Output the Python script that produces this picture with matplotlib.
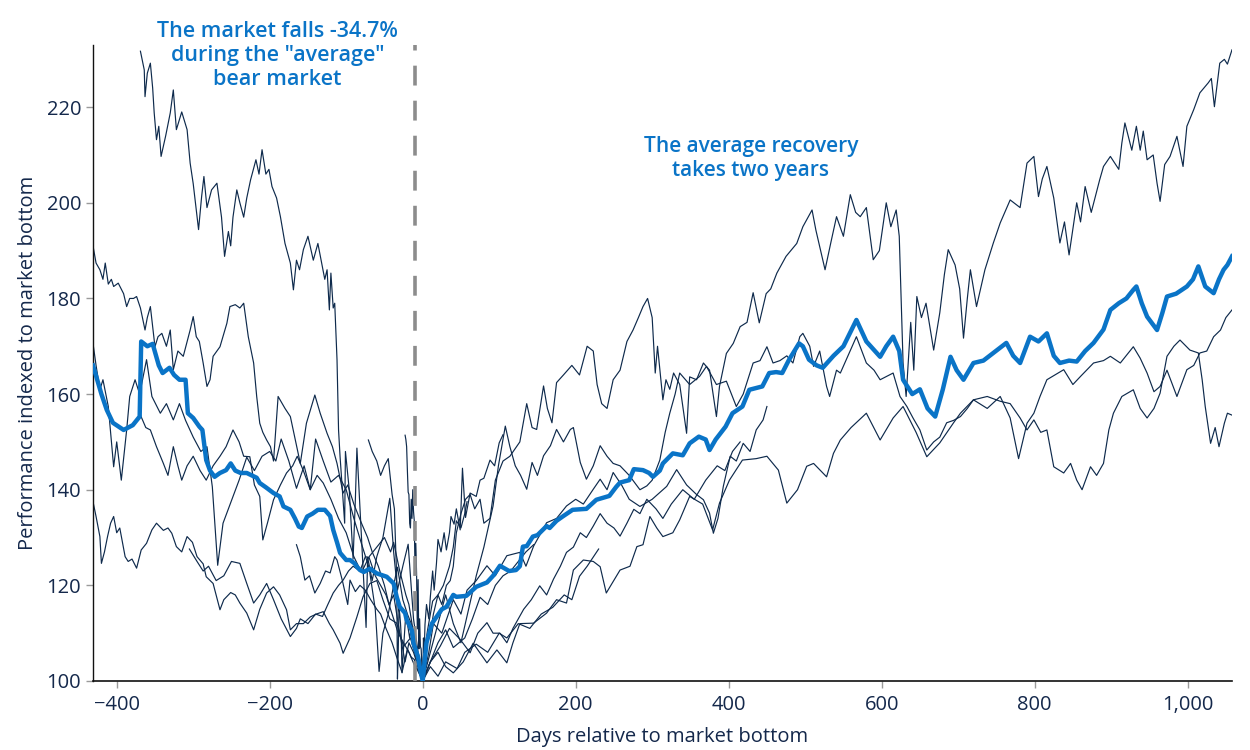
import matplotlib
matplotlib.use("Agg")
import matplotlib.pyplot as plt
from matplotlib.ticker import FuncFormatter

# each line: (days relative to market bottom, index value)
gfc = [(-369, 231.7), (-364, 227.8), (-363, 222.2), (-360, 227.1), (-356, 229.2), (-353, 224), (-351, 218.8),
       (-348, 213.2), (-345, 216), (-342, 209.7), (-336, 214), (-330, 218.8), (-326, 223.6), (-322, 215.3),
       (-315, 219), (-308, 215.3), (-304, 208.3), (-300, 204), (-295, 197.1), (-293, 194.4), (-289, 201.3),
       (-286, 205.5), (-282, 199), (-276, 202.7), (-269, 204.1), (-263, 197), (-259, 188.8), (-254, 194),
       (-251, 191), (-248, 197), (-243, 202.7), (-239, 200), (-234, 197), (-230, 201), (-225, 204.8),
       (-218, 209), (-214, 206), (-210, 211.1), (-205, 206), (-201, 207), (-197, 203.4), (-191, 201),
       (-186, 197.1), (-180, 191.5), (-173, 187.4), (-169, 181.8), (-165, 188), (-161, 186), (-156, 190.2),
       (-150, 193), (-143, 188), (-137, 191.5), (-132, 187.4), (-128, 184), (-125, 186), (-122, 177.6),
       (-120, 185.3), (-117, 178), (-115, 179), (-112, 167.2), (-110, 152.5), (-108, 146.9), (-102, 133),
       (-101, 148), (-96, 140), (-91, 125.5), (-88, 138), (-86, 148.7), (-80, 130), (-74, 111.2),
       (-72, 125.9), (-66, 121), (-60, 126), (-52, 130), (-43, 138.2), (-38, 127), (-33, 119), (-26, 124),
       (-19, 128.6), (-12, 113), (-6, 106), (-3, 104), (0, 100),
       (5, 108), (10, 110), (14, 114), (20, 118), (25, 116), (31, 120), (36, 121), (40, 124), (44, 131),
       (50, 135), (56, 138), (62, 139), (68, 136), (75, 138), (80, 133), (88, 134), (95, 142), (105, 146),
       (114, 147), (127, 150), (136, 158), (143, 153), (149, 152.6), (158, 161.7), (163, 157), (169, 154),
       (175, 162.4), (184, 164), (195, 166), (205, 164), (215, 170), (223, 169), (228, 162), (234, 158),
       (241, 157), (249, 163), (258, 165), (267, 171), (275, 173.4), (282, 176), (288, 178.3), (294, 180),
       (300, 176), (304, 164.4), (307, 170), (314, 158.8), (318, 163), (323, 161), (328, 164.4), (336, 162),
       (345, 151.8), (349, 163.6), (358, 163), (367, 166.5), (375, 165), (384, 155.3), (388, 161.6),
       (397, 168.5), (406, 170.6), (415, 174.1), (424, 175), (432, 181.2), (440, 174.9), (449, 181),
       (455, 182), (463, 185.3), (475, 188.8), (489, 191.5), (497, 195), (509, 198.5), (514, 194.3),
       (526, 186), (534, 192), (541, 197.1), (550, 193), (559, 201.7), (566, 198), (572, 197.1), (580, 199),
       (589, 188.1), (597, 190), (606, 200), (612, 195), (619, 198.5), (623, 193), (628, 166.5), (632, 159.5),
       (638, 175), (642, 165), (646, 180.4), (652, 176), (658, 179), (668, 169.2), (676, 177), (682, 185),
       (687, 190.2), (696, 187), (702, 182), (707, 171.7), (712, 180), (716, 186), (724, 178.3), (735, 186),
       (746, 191.6), (755, 195.8), (768, 200.6), (781, 199), (790, 208.3), (799, 209.7), (805, 201.3),
       (810, 205), (816, 207.6), (825, 201), (833, 191.6), (839, 196), (845, 189.1), (855, 200), (860, 196),
       (866, 203.4), (874, 198), (885, 204.8), (890, 207.6), (899, 209.7), (910, 207), (914, 212.5),
       (918, 216.7), (927, 211), (933, 216), (938, 211), (942, 215), (947, 209), (955, 210), (960, 204.1),
       (964, 200.3), (970, 208), (977, 209.7), (986, 213.9), (994, 207.6), (999, 216), (1008, 219.5),
       (1016, 223), (1027, 225.1), (1031, 226), (1035, 220.1), (1042, 229.2), (1048, 230), (1052, 229),
       (1058, 232)]

bear_1973 = [(-431, 191), (-427, 187.4), (-422, 186), (-418, 184), (-415, 187.4), (-411, 183), (-407, 184),
             (-404, 182.5), (-398, 183.2), (-391, 181), (-387, 178.3), (-383, 180), (-378, 180), (-374, 180.4),
             (-369, 178), (-363, 173.4), (-360, 176), (-356, 178.3), (-350, 169.9), (-346, 172), (-341, 172.7),
             (-335, 170), (-330, 173.4), (-326, 165.1), (-320, 169), (-313, 167.9), (-304, 173.4), (-300, 176.2),
             (-296, 172), (-292, 171), (-287, 166.5), (-282, 161.6), (-278, 163), (-274, 167.9), (-265, 169.9),
             (-256, 174.8), (-252, 178.3), (-245, 178.7), (-239, 178), (-234, 179), (-228, 172), (-221, 166.5),
             (-217, 159.5), (-213, 153.9), (-209, 152), (-204, 150.4), (-199, 149), (-195, 146), (-189, 159.5),
             (-180, 157), (-173, 155.3), (-166, 150), (-160, 145.5), (-152, 153.9), (-141, 159.8), (-134, 156),
             (-125, 151.8), (-118, 149), (-112, 145.5), (-104, 139.3), (-98, 141), (-90, 137), (-80, 133),
             (-72, 130), (-66, 127), (-58, 124), (-50, 120), (-44, 116), (-38, 118), (-30, 110), (-23, 104),
             (-18, 108), (-12, 106), (-6, 103), (0, 100),
             (10, 106), (20, 112), (30, 118), (40, 112), (50, 108), (60, 115), (70, 122), (80, 128),
             (92, 136.6), (99, 145), (108, 153.3), (114, 149), (121, 145), (128, 143), (136, 140.1),
             (143, 145.7), (150, 143), (158, 147.1), (167, 149.2), (175, 152.6), (184, 150), (193, 152.6),
             (197, 153), (206, 145.7), (214, 142.2), (223, 145), (232, 149.2), (241, 147), (249, 145.5),
             (258, 145), (270, 143), (284, 140), (293, 140.8), (300, 142), (310, 146.2), (317, 152), (323, 156),
             (330, 160), (336, 164.4), (349, 162), (362, 163.7), (371, 165.8), (384, 162), (397, 162.7),
             (410, 157.4), (419, 160), (432, 166.5), (441, 167), (450, 169.9), (458, 166.5), (467, 167),
             (476, 168), (484, 166.5), (493, 172), (497, 172.7), (506, 170), (511, 165.8), (519, 169),
             (528, 161.6), (532, 159.5), (541, 165), (546, 164.4), (556, 168), (567, 172), (580, 166.5),
             (590, 165), (598, 163), (615, 164.4), (624, 159.5), (633, 157.4), (641, 155), (650, 152.5),
             (659, 148.3), (668, 150), (676, 151), (685, 154), (694, 154.5), (703, 155.3), (712, 157),
             (720, 158.8), (738, 159.5), (755, 158.5), (768, 158), (781, 155), (790, 152.5), (799, 154.6),
             (808, 152), (816, 152.5), (825, 144.8), (838, 143.5), (847, 145.5), (855, 142), (862, 140),
             (873, 144.8), (881, 143), (890, 145.5), (897, 152.5), (903, 156), (914, 159.5), (929, 160.9),
             (938, 157), (947, 155), (956, 157), (964, 160.2), (973, 167.9), (982, 170), (990, 171.3),
             (1003, 169.2), (1014, 168.6), (1019, 163), (1023, 157.4), (1030, 149.7), (1036, 153), (1041, 149),
             (1048, 153.9), (1052, 156), (1058, 155.6)]

dotcom = [(-431, 170.6), (-427, 166), (-422, 160.9), (-418, 163), (-411, 157.4), (-404, 144.8), (-400, 150),
          (-394, 142), (-387, 152.5), (-383, 159.5), (-376, 163), (-370, 160), (-361, 167.2), (-354, 159.5),
          (-343, 156), (-335, 158), (-326, 154.6), (-318, 158), (-310, 154.5), (-300, 151), (-290, 148),
          (-282, 149), (-275, 140.6), (-268, 124.2), (-261, 133), (-250, 137.7), (-240, 142), (-230, 146.8),
          (-220, 144), (-210, 147), (-200, 148), (-192, 146), (-185, 150.6), (-175, 146), (-165, 140.3),
          (-155, 145), (-147, 140), (-140, 150.6), (-130, 146), (-120, 141.6), (-110, 143), (-100, 140),
          (-90, 134), (-80, 128.7), (-70, 123.6), (-62, 115), (-57, 102), (-52, 110), (-45, 114), (-38, 120),
          (-33, 123.8), (-26, 117), (-20, 114), (-15, 112), (-9, 106), (-4, 104), (0, 100),
          (10, 104), (20, 106), (30, 103), (40, 101.7), (53, 104), (66, 107.9), (84, 103.8), (97, 106.5),
          (110, 103.8), (118, 108), (127, 112), (145, 112.1), (162, 114.2), (175, 117), (188, 116.3),
          (197, 123.2), (210, 125.3), (223, 125), (232, 123.9), (240, 118.4), (258, 123.2), (271, 124),
          (280, 128.1), (288, 128.5), (297, 134.4), (306, 132), (314, 130.2), (327, 131), (336, 133.7),
          (349, 138.6), (366, 137), (379, 131.6), (388, 137.2), (401, 142), (418, 146.2), (436, 146.5),
          (450, 147), (465, 144.1), (476, 137.2), (490, 140), (502, 144.9), (511, 145.5), (528, 142.7),
          (537, 147.6), (546, 150.4), (560, 153), (580, 156), (598, 150.4), (615, 155), (628, 157.4),
          (645, 152), (659, 146.9), (676, 149.8), (694, 154), (703, 156), (720, 158.8), (738, 157),
          (755, 159.5), (768, 155), (779, 146.5), (790, 153.9), (799, 156), (807, 159.5), (816, 163),
          (838, 165.1), (850, 162), (860, 163.7), (877, 166.5), (890, 167), (899, 167.9), (912, 166.5),
          (929, 169.9), (938, 167.5), (947, 164.4), (956, 160.5), (964, 161.6), (973, 165), (986, 159.5),
          (999, 165.1), (1008, 166), (1016, 168.6), (1025, 169), (1034, 172), (1043, 173.4), (1050, 176),
          (1058, 177.6)]

bear_1980 = [(-431, 137.5), (-427, 134.4), (-422, 130.2), (-420, 124.6), (-416, 127), (-412, 130.2), (-408, 133),
             (-404, 134.4), (-400, 131), (-396, 132), (-389, 126), (-385, 125), (-380, 125.5), (-374, 123.6),
             (-368, 127.4), (-361, 128.8), (-354, 131.6), (-348, 133), (-339, 131.5), (-333, 132), (-328, 130.9),
             (-322, 128.1), (-315, 127), (-308, 130.2), (-301, 129), (-295, 126), (-287, 124.5), (-283, 121.8),
             (-274, 120.4), (-265, 114.9), (-260, 117), (-251, 118.5), (-245, 118), (-239, 116.3), (-230, 114.2),
             (-221, 110.7), (-213, 115), (-204, 118.4), (-195, 119.7), (-187, 118), (-178, 114.9), (-173, 110.7),
             (-165, 112), (-156, 112), (-147, 113.4), (-139, 114), (-130, 114.5), (-122, 112), (-117, 110.7),
             (-108, 107.9), (-104, 105.8), (-95, 109), (-86, 113.4), (-78, 117.6), (-69, 120.4), (-60, 121),
             (-52, 117), (-43, 113), (-34, 112.1), (-25, 107.2), (-16, 109), (-8, 104.4), (0, 100),
             (3, 106.6), (6, 110.3), (13, 116.7), (20, 118), (27, 120), (35, 124), (40, 128), (44, 133.5),
             (50, 132), (55, 135), (58, 137.5)]

bear_1968 = [(-370, 156), (-362, 153), (-356, 152.5), (-348, 149), (-339, 145.5), (-333, 143), (-326, 149),
             (-320, 145), (-315, 142), (-308, 145), (-300, 147), (-291, 144), (-283, 142), (-274, 145),
             (-265, 147), (-257, 149), (-248, 152.5), (-240, 150), (-234, 147), (-226, 146.9), (-220, 141),
             (-213, 138.6), (-209, 129.5), (-203, 133), (-195, 137.9), (-186, 141), (-178, 143.5), (-170, 145),
             (-164, 147), (-156, 144), (-147, 140), (-138, 143), (-130, 141.4), (-120, 138), (-110, 134),
             (-100, 131), (-90, 126), (-80, 122.7), (-70, 126), (-60, 128), (-50, 130), (-42, 127), (-38, 129),
             (-30, 123), (-22, 118), (-18, 116), (-12, 110), (-6, 105), (0, 100),
             (8, 106), (14, 112), (25, 110), (40, 117), (50, 114), (58, 119), (70, 121), (84, 124.1), (95, 122),
             (110, 126.2), (127, 126.9), (135, 124), (145, 128.2), (162, 133.1), (175, 134), (188, 136.6),
             (200, 138), (210, 137), (223, 140.1), (232, 142.2), (241, 140), (249, 143.6), (260, 141),
             (270, 138), (284, 136.5), (300, 138), (319, 140.7), (332, 144.2), (345, 141), (358, 139),
             (367, 137.9), (375, 135.1), (380, 130.9), (386, 134), (393, 140.7), (402, 147), (410, 146),
             (419, 149.7), (428, 148), (436, 152.5), (445, 154.6), (450, 157.4)]

bear_1956 = [(-305, 127.6), (-295, 125), (-287, 123), (-280, 124), (-270, 121), (-260, 122), (-250, 125),
             (-239, 124.6), (-230, 120.4), (-221, 116.3), (-213, 118), (-204, 120.4), (-195, 117), (-185, 113),
             (-173, 109.3), (-165, 111), (-160, 113), (-150, 112), (-140, 114), (-131, 113.5), (-124, 116),
             (-117, 118.4), (-110, 120), (-104, 121.1), (-97, 123), (-91, 124), (-82, 123), (-75, 126),
             (-70, 125.8), (-62, 122), (-55, 120), (-48, 118), (-40, 114), (-32, 110), (-25, 108), (-18, 106),
             (-10, 103), (-5, 102), (0, 100),
             (10, 103), (20, 101), (30, 104), (45, 102.6), (55, 106), (70, 107.7), (85, 106), (100, 110),
             (110, 109), (125, 112), (140, 111), (155, 114), (170, 115.4), (185, 118), (195, 117), (205, 121.9),
             (215, 124), (230, 127.6)]

bear_1966 = [(-165, 128.5), (-160, 126), (-154, 121.1), (-148, 122), (-141, 118.4), (-134, 120.4), (-127, 123),
             (-121, 122.6), (-115, 126), (-112, 125.3), (-105, 121), (-98, 116), (-95, 121.1), (-88, 118.7),
             (-82, 120), (-75, 119), (-68, 117), (-60, 115), (-55, 114), (-48, 111), (-40, 108), (-34, 105),
             (-27, 101.8), (-20, 106.7), (-15, 105), (-11, 104.5), (-6, 102), (0, 100),
             (10, 104), (20, 108), (30, 110.7), (40, 107), (55, 109), (65, 113), (75, 117.5), (85, 116),
             (95, 120), (105, 122), (115, 123), (125, 125), (135, 127), (145, 128.5)]

crash_1987 = [(-71, 150.4), (-66, 148), (-60, 146), (-55, 143), (-50, 145), (-45, 146.5), (-40, 139), (-37, 136),
              (-35, 126.3), (-34, 122), (-33, 100.4), (-32, 105.8), (-31, 115.2), (-30, 114), (-29, 112),
              (-28, 109), (-27, 101.7), (-25, 107), (-22, 114.2), (-20, 112), (-17, 109), (-15, 111), (-12, 108),
              (-9, 106), (-6, 102.9), (-3, 104), (0, 100),
              (10, 104), (23, 107.3), (35, 111), (49, 108.7), (62, 105.9), (72, 110), (84, 112.2), (92, 110),
              (101, 110), (110, 108), (118, 111), (132, 115), (142, 117), (153, 119.9), (162, 118), (171, 121.3),
              (180, 124), (188, 126.9), (197, 128), (206, 131), (214, 130), (223, 132.4), (232, 135), (241, 133),
              (250, 132), (258, 130.3), (267, 133), (276, 135.9), (284, 135), (293, 138), (305, 136), (314, 134),
              (325, 137), (340, 140), (355, 138), (370, 142), (385, 145), (395, 144), (405, 148), (415, 150)]

crash_2020 = [(-23, 151.4), (-22, 150.5), (-21, 149), (-20, 144), (-19, 139.5), (-18, 139), (-17, 133), (-16, 132),
              (-15, 138), (-14, 134), (-13, 140), (-12, 135.5), (-11, 133.5), (-10, 122.8), (-9, 128.8),
              (-8, 122.6), (-7, 110.9), (-6, 121.2), (-5, 106.7), (-4, 113), (-3, 107.2), (-2, 106.7), (-1, 103),
              (0, 100), (1, 109), (2, 106), (3, 111.8), (5, 116), (8, 113), (10, 117.6), (13, 123), (15, 119),
              (18, 124.6), (20, 129.6), (24, 127), (28, 131), (31, 127.4), (35, 131), (37, 134.4), (41, 132.8),
              (44, 136), (49, 131.6), (52, 144.5), (56, 134.2), (62, 139.3), (70, 138.6), (75, 142), (80, 142.4),
              (88, 146.2), (94, 145), (100, 149.8), (105, 151.5)]

average = [(-431, 166), (-420, 160), (-413, 156.7), (-405, 154), (-391, 152.5), (-379, 153.5), (-370, 155.3),
           (-368, 171), (-360, 170), (-353, 170.5), (-345, 166), (-340, 164.4), (-331, 165.5), (-325, 164),
           (-318, 163), (-310, 163), (-307, 156), (-300, 155), (-292, 153.2), (-288, 152.5), (-283, 146.2),
           (-278, 144), (-272, 142.7), (-265, 143.5), (-257, 144.1), (-251, 145.5), (-245, 144), (-238, 143.5),
           (-230, 143.5), (-217, 142.5), (-213, 141.4), (-205, 140.5), (-195, 139.3), (-187, 138.6),
           (-182, 136.5), (-173, 135.8), (-167, 134), (-162, 132.3), (-158, 132), (-151, 134.4), (-144, 135),
           (-137, 135.8), (-128, 135.8), (-121, 134.5), (-117, 131.6), (-112, 129), (-108, 126.8), (-100, 125.3),
           (-95, 125.3), (-89, 124.6), (-86, 123.9), (-82, 123.2), (-77, 122.8), (-69, 123.5), (-60, 122.5),
           (-47, 121.8), (-38, 120.4), (-34, 117.6), (-30, 115.5), (-23, 114.2), (-21, 112.8), (-14, 110.5),
           (-12, 107.9), (-6, 105), (-4, 103), (0, 100),
           (5, 108), (12, 112), (18, 113.4), (25, 115), (31, 115.5), (40, 118), (44, 117.6), (57, 117.8),
           (70, 119.7), (84, 120.6), (92, 122), (101, 124.1), (113, 123), (122, 123.2), (127, 124), (131, 128.1),
           (136, 128.2), (144, 130.2), (150, 130.5), (157, 131.6), (162, 132.4), (166, 132), (175, 133.5),
           (183, 134.4), (196, 135.8), (214, 136), (227, 137.9), (240, 138.5), (244, 138.7), (253, 140.6),
           (258, 141.5), (270, 142), (276, 144.3), (288, 144.1), (296, 143.5), (301, 142.7), (310, 144),
           (314, 145.5), (327, 147.6), (340, 147.2), (349, 149.7), (361, 151.1), (370, 150.5), (375, 148.3),
           (383, 150.5), (396, 153.2), (405, 156), (418, 157.4), (427, 160.9), (444, 161.6), (453, 164.4),
           (462, 164.6), (470, 164.4), (479, 167.2), (492, 170.6), (497, 170), (505, 167.2), (515, 166),
           (523, 165.5), (537, 168), (550, 170), (567, 175.5), (580, 171), (598, 167.8), (606, 170), (615, 172),
           (623, 169), (628, 163), (640, 160), (650, 161), (660, 157), (670, 155.3), (680, 161), (690, 167.8),
           (698, 165), (707, 163), (720, 166.5), (733, 167), (746, 168.6), (763, 170.7), (772, 168),
           (781, 166.5), (794, 172), (805, 171), (816, 172.7), (825, 168), (833, 166.5), (845, 167),
           (855, 166.8), (866, 169), (877, 170.7), (890, 173.5), (899, 177.6), (910, 179), (920, 180),
           (929, 181.8), (933, 182.5), (940, 179), (947, 176.2), (960, 173.4), (967, 177), (973, 180.4),
           (985, 181), (999, 182.5), (1007, 184), (1014, 186.7), (1023, 182.5), (1034, 181.1), (1041, 184),
           (1047, 186), (1052, 187), (1058, 188.8)]

bear_lines = [gfc, bear_1973, dotcom, bear_1980, bear_1968, bear_1956, bear_1966, crash_1987, crash_2020]

x_ticks = [-400, -200, 0, 200, 400, 600, 800, 1000]
y_ticks = [100, 120, 140, 160, 180, 200, 220]

NAVY = "#0e2a4c"
BLUE = "#0a74c7"
TEXT = "#14284b"

plt.rcParams["font.family"] = ["Open Sans", "DejaVu Sans"]

fig = plt.figure(figsize=(12.5, 7.5), dpi=100)
ax = fig.add_axes([0.0744, 0.092, 0.9112, 0.848])

for line in bear_lines:
    d = [p[0] for p in line]
    v = [p[1] for p in line]
    ax.plot(d, v, color=NAVY, lw=0.85, zorder=2)

ax.axvline(-10, color="#8c8c8c", lw=2.6, dashes=(5.5, 4.2), zorder=3)

d = [p[0] for p in average]
v = [p[1] for p in average]
ax.plot(d, v, color=BLUE, lw=3.2, zorder=4, solid_joinstyle="round")

ax.set_xlim(-431, 1058)
ax.set_ylim(100, 233)
ax.set_xticks(x_ticks)
ax.set_yticks(y_ticks)
ax.xaxis.set_major_formatter(FuncFormatter(lambda x, p: f"{int(x):,}".replace("-", "\u2212")))

for s in ["top", "right"]:
    ax.spines[s].set_visible(False)
ax.spines["left"].set_color("#111111")
ax.spines["bottom"].set_color("#111111")
ax.spines["left"].set_linewidth(1.0)
ax.spines["bottom"].set_linewidth(1.2)

ax.tick_params(axis="both", labelsize=14.5, colors="#9a9a9a", labelcolor=TEXT, length=5, width=1)
ax.tick_params(axis="x", pad=5)

ax.set_xlabel("Days relative to market bottom", fontsize=14.5, color=TEXT, labelpad=9)
ax.set_ylabel("Performance indexed to market bottom", fontsize=14.5, color=TEXT, labelpad=6)

ax.text(-190, 230.8, 'The market falls -34.7%\nduring the "average"\nbear market', ha="center", va="center",
        fontsize=15.5, color=BLUE, fontweight="semibold", linespacing=1.2, clip_on=False)
ax.text(429, 209.3, "The average recovery\ntakes two years", ha="center", va="center",
        fontsize=15, color=BLUE, fontweight="semibold", linespacing=1.2)

fig.savefig("out.png", dpi=100)
